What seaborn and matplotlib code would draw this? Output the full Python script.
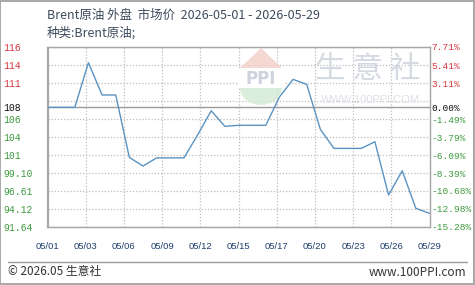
import numpy as np
import pandas as pd
import matplotlib
matplotlib.use("Agg")
import matplotlib.pyplot as plt
import matplotlib.patches as mpatches
import seaborn as sns

# ---------------- data ----------------
days = list(range(1, 30))
prices = [108.17, 108.17, 108.17, 114.34, 109.88, 109.88, 101.26, 100.06, 101.19, 101.19,
          101.19, 104.35, 107.70, 105.55, 105.69, 105.69, 105.69, 109.60, 112.04, 111.35,
          105.13, 102.50, 102.50, 102.50, 103.42, 96.06, 99.41, 94.22, 93.53]
x_labels = ["05/01", "05/03", "05/06", "05/09", "05/12", "05/15", "05/17", "05/20", "05/23", "05/26", "05/29"]
pct_ticks = [7.71, 5.41, 3.11, 0.00, -1.49, -3.79, -6.09, -8.39, -10.68, -12.98, -15.28]
left_labels = ["116", "114", "111", "108", "106", "104", "101", "99.10", "96.61", "94.12", "91.64"]
right_labels = ["7.71%", "5.41%", "3.11%", "0.00%", "-1.49%", "-3.79%", "-6.09%", "-8.39%",
                "-10.68%", "-12.98%", "-15.28%"]
grid_pct = [7.71, 5.41, 3.11, 0.81, -1.49, -3.79, -6.09, -8.39, -10.68, -12.98, -15.28]
title = "Brent原油 外盘  市场价  2026-05-01 - 2026-05-29"
subtitle = "种类:Brent原油;"

df = pd.DataFrame({"day": days, "price": prices})
base = prices[0]

sns.set_style("white")
plt.rcParams["font.family"] = ["Noto Sans CJK SC", "DejaVu Sans"]

W, H = 475, 285
fig = plt.figure(figsize=(W / 100, H / 100), dpi=100)

def fx(px):
    return px / W

def fy(py):
    return 1 - py / H

# ---- watermark (behind axes) ----
roof = mpatches.Polygon([[fx(240), fy(68)], [fx(261), fy(48)], [fx(282), fy(68)]],
                        closed=True, transform=fig.transFigure, facecolor="#f4cfc9",
                        edgecolor="none", alpha=0.8)
fig.patches.append(roof)
green = mpatches.Ellipse((fx(261), fy(88)), fx(42), 34 / H, transform=fig.transFigure,
                         facecolor="#d3ead3", edgecolor="none", alpha=0.8)
fig.patches.append(green)
cover = mpatches.Rectangle((fx(238), fy(88)), fx(46), 20 / H, transform=fig.transFigure,
                           facecolor="white", edgecolor="none")
fig.patches.append(cover)
fig.text(fx(261), fy(79), "PPI", ha="center", va="center", fontsize=12, fontweight="bold",
         color="#cdd2dc", family=["DejaVu Sans"])
fig.text(fx(368), fy(70), "生 意 社", ha="center", va="center", fontsize=22,
         color="#d5d9e1")
fig.text(fx(370), fy(100), "WWW.100PPI.COM", ha="center", va="center", fontsize=8,
         color="#dde0e6", family=["Liberation Sans"])

# ---------------- axes ----------------
L, R, T, B = 47.5, 429.5, 47, 227
ax = fig.add_axes([fx(L), 1 - B / H, (R - L) / W, (B - T) / H])
ax.set_facecolor("none")

ymin = base * (1 + pct_ticks[-1] / 100)
ymax = base * (1 + pct_ticks[0] / 100)

for p in grid_pct:
    ax.axhline(base * (1 + p / 100), color="#bdbdbd", lw=0.9, ls=(0, (1, 1.5)), zorder=0)
ax.axhline(base, color="#999999", lw=1.0, zorder=1)

sns.lineplot(data=df, x="day", y="price", ax=ax, color="#5a93c2", lw=1.0, zorder=3)

xt = np.linspace(days[0], days[-1], len(x_labels))
ax.set_xlim(days[0], days[-1])
ax.set_ylim(ymin, ymax)
ax.set_xticks(xt)
ax.set_xticklabels(x_labels, fontsize=6.8, color="#1f3f6e", family=["Liberation Sans"])
for xv in xt[1:-1]:
    ax.axvline(xv, color="#bdbdbd", lw=0.9, ls=(0, (1, 1.5)), zorder=0)
ax.tick_params(axis="x", length=0, pad=11)
ax.set_xlabel("")
ax.set_ylabel("")

ytick_pos = [base * (1 + p / 100) for p in pct_ticks]
ax.set_yticks(ytick_pos)
ax.set_yticklabels(left_labels, fontsize=7, family=["Liberation Mono"], ha="left")
ax.tick_params(axis="y", length=0, pad=31.5)

red, green_c, black = "#d9363e", "#3f9a3f", "#111111"

def col(p):
    if p > 0:
        return red
    if p < 0:
        return green_c
    return black

for lab, p in zip(ax.get_yticklabels(), pct_ticks):
    lab.set_color(col(p))

ax2 = ax.twinx()
ax2.set_ylim(ymin, ymax)
ax2.set_yticks(ytick_pos)
ax2.set_yticklabels(right_labels, fontsize=6.8, family=["Liberation Mono"])
ax2.tick_params(axis="y", length=0, pad=1.5)
for lab, p in zip(ax2.get_yticklabels(), pct_ticks):
    lab.set_color(col(p))
ax2.set_ylabel("")

for a in (ax, ax2):
    for s in a.spines.values():
        s.set_color("#a8a8a8")
        s.set_linewidth(0.9)

# ---------------- texts ----------------
fig.text(fx(47), fy(15), title, ha="left", va="center", fontsize=9, color="#3d4b5c")
fig.text(fx(47), fy(33), subtitle, ha="left", va="center", fontsize=9, color="#3d4b5c")
fig.text(fx(8), fy(272), "© 2026.05 生意社", ha="left", va="center", fontsize=8.5, color="#333333")
fig.text(fx(466), fy(272), "www.100PPI.com", ha="right", va="center", fontsize=8.5, color="#333333")

fig.add_artist(plt.Line2D([fx(8), fx(467)], [fy(262), fy(262)], transform=fig.transFigure,
                          color="#999999", lw=1))
fig.add_artist(mpatches.Rectangle((0.001, 0.002), 0.997, 0.995, transform=fig.transFigure,
                                  fill=False, edgecolor="#9a9a9a", lw=1.2))

fig.savefig("out.png", dpi=100)
